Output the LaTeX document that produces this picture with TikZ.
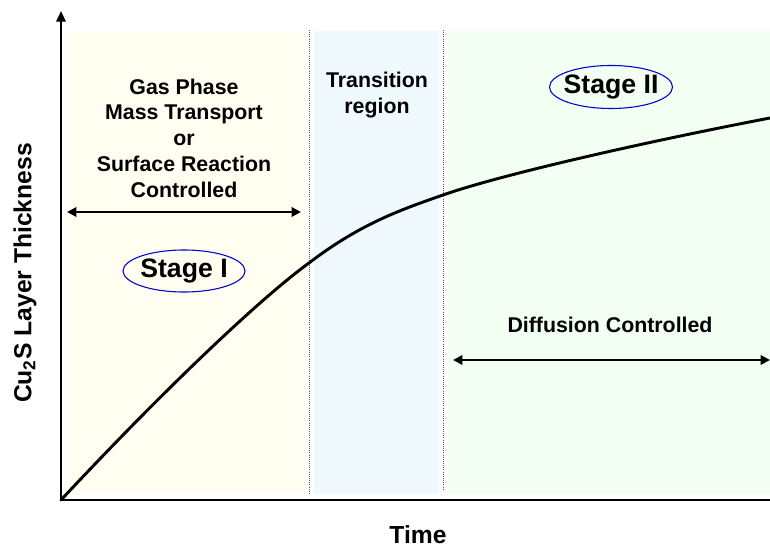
\documentclass[tikz,border=0pt]{standalone}
\usepackage{fontspec}
\setmainfont{Liberation Sans}
\usetikzlibrary{arrows.meta}

\begin{document}
\begin{tikzpicture}[
  x=0.75pt, y=-0.75pt,
  label/.style={font=\bfseries\fontsize{16}{19.3}\selectfont, align=center},
  stage/.style={inner sep=0pt, font=\bfseries\fontsize{20}{22}\selectfont},
  ring/.style={draw=blue!80!black, line width=0.8pt},
  axistitle/.style={font=\bfseries\fontsize{18.5}{20}\selectfont},
  divider/.style={gray!70!black, densely dotted, line width=0.6pt},
  span/.style={{Triangle[length=7pt,width=7pt]}-{Triangle[length=7pt,width=7pt]}, line width=1.5pt},
  curve/.style={line width=2.2pt, line cap=round}
]
\useasboundingbox (0,0) rectangle (770,548);

% shaded regions
\fill[yellow!6] (66,31) rectangle (305,494);
\fill[cyan!6] (314,31) rectangle (439,494);
\fill[green!5] (448,31) rectangle (770,494);

% region borders
\coordinate (d1top) at (309,30);
\coordinate (d1bot) at (309,494);
\coordinate (d2top) at (443,30);
\coordinate (d2bot) at (443,490);
\draw[divider] (d1top) -- (d1bot);
\draw[divider] (d2top) -- (d2bot);

% axes
\coordinate (O) at (61,500);
\coordinate (ytop) at (61,11);
\coordinate (xend) at (770,500);
\draw[line width=1.6pt, {Triangle[length=8pt,width=7pt]}-] (ytop) -- (O) -- (xend);

% growth curve
\coordinate (k1) at (309,263);
\coordinate (k2) at (443,195);
\coordinate (k3) at (770,118);
\draw[curve] (O) .. controls (160,394) and (258,300) .. (k1)
  .. controls (360,224) and (400,210) .. (k2)
  .. controls (500,175) and (640,143) .. (k3);

% labels
\node[label] (gas) at (184,138) {Gas Phase\\Mass Transport\\or\\Surface Reaction\\Controlled};
\node[label] (trans) at (377,95) {Transition\\region};
\node[label] (diff) at (610,325) {Diffusion Controlled};
\node[stage] (s1) at (184,271) {Stage I};
\node[stage] (s2) at (611,87) {Stage II};
\draw[ring] (s1.center) ellipse [x radius=61, y radius=21];
\draw[ring] (s2.center) ellipse [x radius=61.5, y radius=21.5];

% spans
\coordinate (a1l) at (67,212);
\coordinate (a1r) at (301,212);
\coordinate (a2l) at (453,360);
\coordinate (a2r) at (770,360);
\draw[span] (a1l) -- (a1r);
\draw[span] (a2l) -- (a2r);

% axis titles
\node[axistitle] (xt) at (418,535) {Time};
\node[axistitle, rotate=90] (yt) at (25,273) {Cu\textsubscript{2}S Layer Thickness};
\end{tikzpicture}
\end{document}
